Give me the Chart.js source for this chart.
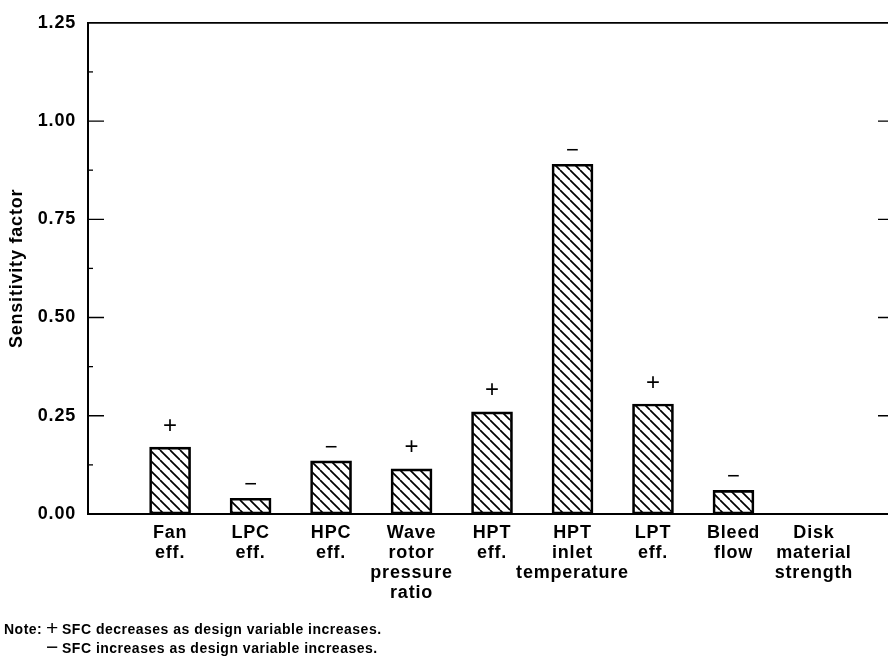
<!DOCTYPE html>
<html>
<head>
<meta charset="utf-8">
<script src="https://cdn.jsdelivr.net/npm/chart.js@4"></script>
<style>
  html, body { margin: 0; padding: 0; background: #fff; }
  #wrap { width: 888px; height: 660px; }
</style>
</head>
<body>
<div id="wrap"><canvas id="sensChart" width="888" height="660"></canvas></div>
<script>
// design variables (x categories, one line per label row)
const categories = [
    ["Fan", "eff."],
    ["LPC", "eff."],
    ["HPC", "eff."],
    ["Wave", "rotor", "pressure", "ratio"],
    ["HPT", "eff."],
    ["HPT", "inlet", "temperature"],
    ["LPT", "eff."],
    ["Bleed", "flow"],
    ["Disk", "material", "strength"],
];
const sensitivity = [0.17, 0.04, 0.135, 0.115, 0.26, 0.89, 0.28, 0.06, 0];
const signs = ["+", "\u2212", "\u2212", "+", "+", "\u2212", "+", "\u2212", ""];
const yTicks = [0, 0.25, 0.5, 0.75, 1.0, 1.25];
const noteLines = [
    ["Note:", "+", "SFC decreases as design variable increases."],
    ["", "\u2212", "SFC increases as design variable increases."],
];

const FONT = "'Liberation Sans', Arial, Helvetica, sans-serif";

// diagonal hatch fill
function hatch() {
    const s = 10;
    const c = document.createElement("canvas");
    c.width = s; c.height = s;
    const g = c.getContext("2d");
    g.strokeStyle = "#000";
    g.lineWidth = 1.7;
    for (const o of [-s, 0, s]) {
        g.beginPath();
        g.moveTo(o, 0);
        g.lineTo(o + s, s);
        g.stroke();
    }
    return g.createPattern(c, "repeat");
}

// the scanned lettering is a bit wider than Arial
const spacing = {
    id: "spacing",
    beforeDraw(chart) {
        chart.ctx.letterSpacing = "0.8px";
    },
};

// frame, inward ticks, signs above bars, note text
const decorations = {
    id: "decorations",
    afterDatasetsDraw(chart) {
        const { ctx, chartArea: a, scales } = chart;
        const y = scales.y;
        ctx.save();
        ctx.strokeStyle = "#000";
        ctx.lineWidth = 1.8;
        ctx.beginPath();
        ctx.moveTo(a.left, a.top);
        ctx.lineTo(a.right, a.top);
        ctx.stroke();

        ctx.lineWidth = 1.3;
        yTicks.forEach((t, i) => {
            const py = y.getPixelForValue(t);
            if (i > 0 && i < yTicks.length - 1) {
                ctx.beginPath();
                ctx.moveTo(a.left, py);
                ctx.lineTo(a.left + 16, py);
                ctx.moveTo(a.right - 10, py);
                ctx.lineTo(a.right, py);
                ctx.stroke();
            }
            if (i < yTicks.length - 1) {
                const pm = y.getPixelForValue(t + 0.125);
                ctx.beginPath();
                ctx.moveTo(a.left, pm);
                ctx.lineTo(a.left + 5, pm);
                ctx.stroke();
            }
        });

        // + / − markers
        const meta = chart.getDatasetMeta(0);
        ctx.fillStyle = "#000";
        ctx.textAlign = "center";
        ctx.textBaseline = "middle";
        ctx.letterSpacing = "0px";
        meta.data.forEach((bar, i) => {
            const s = signs[i];
            if (!s) return;
            if (s === "+") {
                ctx.font = "24px " + FONT;
                ctx.fillText(s, bar.x, bar.y - 21);
            } else {
                ctx.font = "22px " + FONT;
                ctx.fillText(s, bar.x, bar.y - 13);
            }
        });

        // note
        ctx.textAlign = "left";
        ctx.textBaseline = "alphabetic";
        noteLines.forEach((ln, i) => {
            const by = 634 + i * 19;
            ctx.letterSpacing = "0.5px";
            ctx.font = "bold 14px " + FONT;
            if (ln[0]) ctx.fillText(ln[0], 4, by);
            ctx.letterSpacing = "0px";
            ctx.font = "21px " + FONT;
            ctx.fillText(ln[1], 46, by + 1);
            ctx.letterSpacing = "0.5px";
            ctx.font = "bold 14px " + FONT;
            ctx.fillText(ln[2], 62, by);
        });
        ctx.restore();
    },
};

const ctx = document.getElementById("sensChart");
new Chart(ctx, {
    type: "bar",
    data: {
        datasets: [
            {
                data: sensitivity.map((v, i) => ({ x: i, y: v })),
                backgroundColor: hatch(),
                borderColor: "#000",
                borderWidth: 2,
                borderSkipped: false,
                barThickness: 41,
            },
        ],
    },
    options: {
        responsive: false,
        animation: false,
        layout: { padding: { top: 21, right: 0, left: 0, bottom: 0 } },
        plugins: {
            legend: { display: false },
            tooltip: { enabled: false },
        },
        scales: {
            x: {
                type: "linear",
                offset: false,
                min: -1.02,
                max: 8.92,
                afterBuildTicks: (scale) => {
                    scale.ticks = categories.map((c, i) => ({ value: i }));
                },
                afterFit: (scale) => { scale.height = 146; },
                grid: { display: false, drawTicks: false },
                border: { display: true, color: "#000", width: 2 },
                ticks: {
                    autoSkip: false,
                    maxRotation: 0,
                    padding: 9,
                    color: "#000",
                    font: { family: FONT, size: 18, weight: "bold", lineHeight: 1.11 },
                    callback: (v) => categories[v] || "",
                },
            },
            y: {
                min: 0,
                max: 1.25,
                afterBuildTicks: (scale) => {
                    scale.ticks = yTicks.map((v) => ({ value: v }));
                },
                afterFit: (scale) => { scale.width = 88; },
                grid: { display: false, drawTicks: false },
                border: { display: true, color: "#000", width: 2 },
                ticks: {
                    padding: 12,
                    color: "#000",
                    font: { family: FONT, size: 18, weight: "bold" },
                    callback: (v) => v.toFixed(2),
                },
                title: {
                    display: true,
                    text: "Sensitivity factor",
                    color: "#000",
                    padding: { top: 6, bottom: 0 },
                    font: { family: FONT, size: 18, weight: "bold" },
                },
            },
        },
    },
    plugins: [spacing, decorations],
});
</script>
</body>
</html>
